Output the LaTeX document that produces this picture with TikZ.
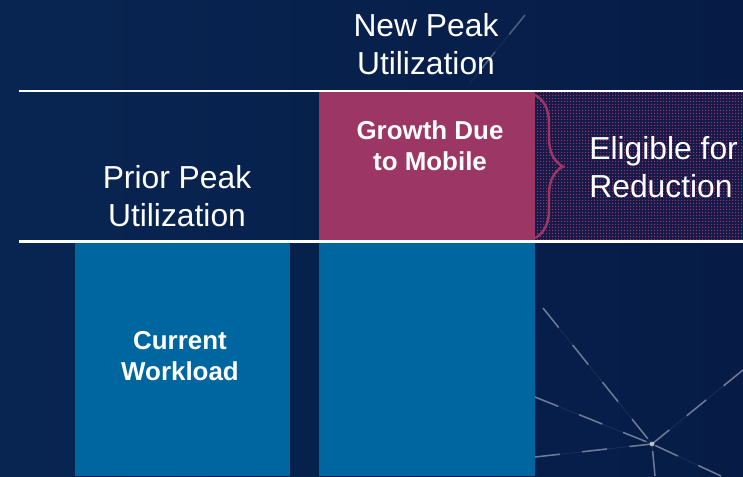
\documentclass[tikz,border=0pt]{standalone}
\usepackage{fontspec}
\setmainfont{Liberation Sans}
\usetikzlibrary{calc,positioning,decorations.pathreplacing,patterns.meta}
\definecolor{navyleft}{HTML}{082551}
\definecolor{navyright}{HTML}{061C47}
\definecolor{workblue}{HTML}{0066A0}
\definecolor{mobilepink}{HTML}{9C3664}
\definecolor{dotnavy}{HTML}{141A4A}
\newcommand{\peaksize}{\fontsize{18.1}{21.5}\selectfont}
\newcommand{\barsize}{\fontsize{14.75}{17.6}\selectfont\bfseries}
\tikzdeclarepattern{
  name=pinkdots,
  bottom left={(0pt,0pt)},
  top right={(1.7pt,1.7pt)},
  tile size={(1.7pt,1.7pt)},
  code={\pgfpathrectangle{\pgfpoint{0pt}{0pt}}{\pgfpoint{0.7pt}{0.7pt}}\pgfusepath{fill}}
}

\begin{document}
\begin{tikzpicture}[
    peaktext/.style={text=white, align=center, font=\peaksize, inner sep=0pt},
    bartext/.style={text=white, align=center, font=\barsize, inner sep=0pt},
    peakline/.style={draw=white, line width=1.7pt},
    starline/.style={white, opacity=0.08, line width=0.5pt},
    stardash/.style={white, opacity=0.38, line width=0.9pt, dash pattern=on 0.5cm off 0.45cm}
  ]
      \useasboundingbox (0, 0) rectangle (14.86, 9.52);
      \shade[left color=navyleft, right color=navyright] (0, 0) rectangle (14.86, 9.52);

      \coordinate (hub) at (13.04, 0.64);
      \foreach \tx/\ty in {10.86/3.36, 10.70/1.58, 10.70/0.38, 14.86/2.12, 14.42/0, 13.10/0} {
        \draw[starline] (\tx, \ty) -- (hub);
        \draw[stardash] (\tx, \ty) -- (hub);
      }
      \fill[white, opacity=0.6] (hub) circle (0.05);
      \coordinate (skytop) at (10.50, 9.22);
      \coordinate (skybot) at (9.40, 7.86);
      \draw[starline] (skytop) -- (skybot);
      \draw[stardash, opacity=0.25] (skytop) -- (skybot);

      \fill[dotnavy] (10.70, 4.72) rectangle (14.86, 7.67);
      \fill[pattern=pinkdots, pattern color=mobilepink] (10.70, 4.72) rectangle (14.86, 7.67);
      \fill[mobilepink] (6.38, 4.72) rectangle (10.70, 7.67);
      \fill[workblue] (1.50, 0) rectangle (5.80, 4.66);
      \fill[workblue] (6.38, 0) rectangle (10.70, 4.66);

      \draw[peakline] (0.38, 7.70) -- (14.86, 7.70);
      \draw[peakline] (0.38, 4.69) -- (14.86, 4.69);

      \coordinate (bracetop) at (10.70, 7.62);
      \coordinate (bracebot) at (10.70, 4.76);
      \draw[mobilepink, line width=1.4pt, decorate, decoration={brace, amplitude=0.56cm}] (bracetop) -- (bracebot);

      \node[peaktext] (newpeak) at (8.52, 8.64) {New Peak\\Utilization};
      \node[peaktext] (priorpeak) at (3.54, 5.60) {Prior Peak\\Utilization};
      \node[bartext] (growth) at (8.60, 6.60) {Growth Due\\to Mobile};
      \node[bartext] (current) at (3.60, 2.39) {Current\\Workload};
      \node[peaktext, align=left, anchor=west] (eligible) at (11.78, 6.17) {Eligible for\\Reduction};
    \end{tikzpicture}
\end{document}
